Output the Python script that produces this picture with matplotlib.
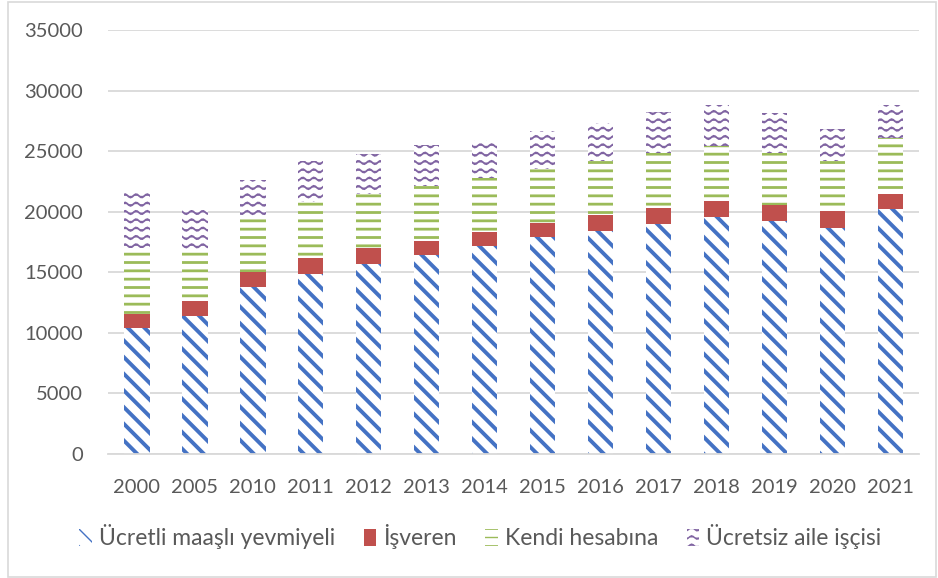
import warnings
import numpy as np
import matplotlib
matplotlib.use("Agg")
import matplotlib.pyplot as plt
import matplotlib.hatch as mhatch
from matplotlib.path import Path
from matplotlib.patches import Rectangle

warnings.filterwarnings("ignore")

years = ["2000", "2005", "2010", "2011", "2012", "2013", "2014",
         "2015", "2016", "2017", "2018", "2019", "2020", "2021"]
ucretli = [10400, 11400, 13800, 14900, 15700, 16400, 17150,
           17900, 18400, 18950, 19550, 19200, 18700, 20200]
isveren = [1200, 1200, 1200, 1300, 1300, 1150, 1150,
           1200, 1300, 1400, 1300, 1350, 1350, 1300]
kendi = [5400, 4250, 4450, 4600, 4500, 4550, 4450,
         4400, 4450, 4500, 4550, 4300, 4100, 4550]
ucretsiz = [4550, 3300, 3150, 3350, 3300, 3450, 3150,
            3150, 3150, 3350, 3400, 3300, 2650, 2800]
labels = ["Ücretli maaşlı yevmiyeli", "İşveren", "Kendi hesabına", "Ücretsiz aile işçisi"]


# wavy hatch ('~') for the unpaid family workers series, like the excel pattern
class WaveHatch(mhatch.HatchPatternBase):
    def __init__(self, hatch, density):
        self.num_rows = hatch.count("~") * density
        self.pts = 60
        self.num_vertices = self.num_rows * self.pts

    def set_vertices_and_codes(self, vertices, codes):
        xs = np.linspace(0, 1, self.pts)
        for i in range(self.num_rows):
            y0 = (i + 0.5) / self.num_rows
            ys = y0 + 0.017 * np.sin(2 * np.pi * 9 * xs)
            sl = slice(i * self.pts, (i + 1) * self.pts)
            vertices[sl, 0] = xs
            vertices[sl, 1] = ys
            codes[sl] = Path.LINETO
            codes[i * self.pts] = Path.MOVETO


mhatch._hatch_types.append(WaveHatch)

plt.rcParams["font.family"] = ["Lato", "DejaVu Sans"]
text_color = "#595959"
grid_color = "#D9D9D9"

fig = plt.figure(figsize=(9.38, 5.78), dpi=100)
ax = fig.add_axes([0.115, 0.2145, 0.865, 0.7335])

x = np.arange(len(years))
w = 0.44
bottom = np.zeros(len(years))

styles = [
    dict(facecolor="white", edgecolor="#4472C4", hatch="\\\\", hlw=2.8),
    dict(facecolor="#C0504D", edgecolor="#D99694", hatch=None, hlw=1.0),
    dict(facecolor="white", edgecolor="#9BBB59", hatch="--", hlw=2.0),
    dict(facecolor="white", edgecolor="#8064A2", hatch="~~", hlw=1.3),
]
series = [ucretli, isveren, kendi, ucretsiz]
handles = []
for vals, st, lab in zip(series, styles, labels):
    with plt.rc_context({"hatch.linewidth": st["hlw"]}):
        bars = ax.bar(x, vals, w, bottom=bottom, facecolor=st["facecolor"],
                      edgecolor=st["edgecolor"], hatch=st["hatch"],
                      linewidth=0, label=lab, zorder=2)
        for b in bars:
            if hasattr(b, "set_hatch_linewidth"):
                b.set_hatch_linewidth(st["hlw"])
    handles.append(bars)
    bottom += np.array(vals)

ax.set_ylim(0, 35000)
ax.set_xlim(-0.5, len(years) - 0.5)
ax.set_yticks(np.arange(0, 35001, 5000))
ax.set_xticks(x)
ax.set_xticklabels(years)
ax.grid(axis="y", color=grid_color, linewidth=1.3, zorder=0)
ax.set_axisbelow(True)
for s in ["top", "right", "left"]:
    ax.spines[s].set_visible(False)
ax.spines["bottom"].set_color(grid_color)
ax.spines["bottom"].set_linewidth(1.3)
ax.tick_params(axis="both", length=0, labelsize=14.5, labelcolor=text_color)
ax.tick_params(axis="x", pad=18)
ax.tick_params(axis="y", pad=18)

leg = fig.legend(handles=handles, labels=labels, loc="center", ncol=4,
                 bbox_to_anchor=(0.512, 0.071), frameon=False,
                 fontsize=16.5, handlelength=0.55, handleheight=0.8,
                 handletextpad=0.3, columnspacing=1.25)
for t in leg.get_texts():
    t.set_color(text_color)

# light border around the whole chart area
fig.patches.append(Rectangle((0.008, 0.002), 0.99, 0.995, transform=fig.transFigure,
                             fill=False, edgecolor=grid_color, linewidth=1.2))

fig.savefig("out.png", dpi=100)
